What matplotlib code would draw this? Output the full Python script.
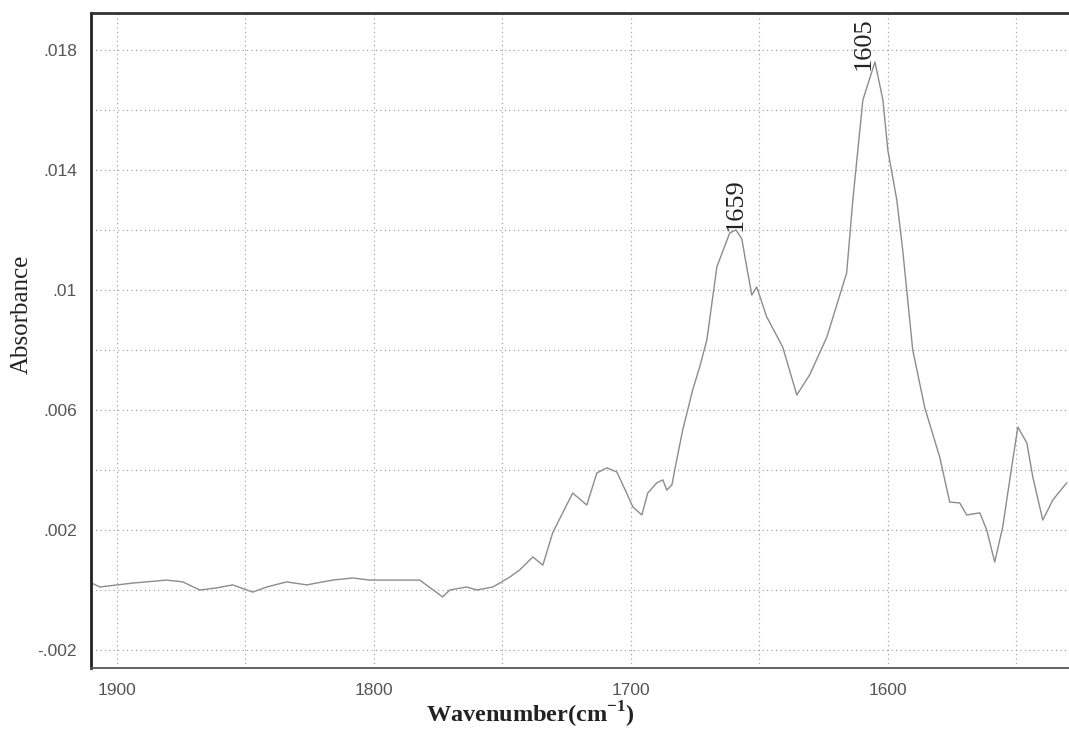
import numpy as np
import matplotlib
matplotlib.use("Agg")
import matplotlib.pyplot as plt
from matplotlib.ticker import FixedLocator, FixedFormatter

# spectrum
wavenumber = [1909, 1906.6, 1893.8, 1880.5, 1874.3, 1867.7, 1861.1, 1854.9, 1847.1, 1841.6,
              1833.9, 1826.1, 1816.0, 1808.2, 1801.6, 1789.9, 1782.1, 1773.2, 1770.4, 1763.8,
              1759.9, 1753.7, 1751.0, 1747.1, 1743.2, 1738.1, 1734.2, 1730.4, 1726.5, 1722.6,
              1717.1, 1713.2, 1709.3, 1705.4, 1701.6, 1699.2, 1695.7, 1693.4, 1689.9, 1687.5,
              1686.0, 1684.0, 1682.9, 1679.8, 1675.9, 1673.2, 1670.4, 1666.5, 1661.5, 1659.1,
              1656.8, 1654.9, 1652.9, 1651.0, 1647.1, 1640.9, 1635.4, 1630.4, 1623.7, 1616.0,
              1613.6, 1609.7, 1605.0, 1601.9, 1600.0, 1596.5, 1594.2, 1590.3, 1585.6, 1579.8,
              1575.9, 1572.0, 1569.3, 1564.2, 1561.5, 1558.4, 1555.3, 1551.8, 1549.4, 1545.9,
              1543.6, 1539.7, 1535.8, 1530.4]
absorbance = [0.0002, 0.0001, 0.00023, 0.00033, 0.00027, 0.0, 0.00007, 0.00017, -0.00007, 0.0001,
              0.00027, 0.00017, 0.00033, 0.0004, 0.00033, 0.00033, 0.00033, -0.00023, 0.0, 0.0001,
              0.0, 0.0001, 0.00023, 0.00043, 0.00067, 0.0011, 0.00083, 0.0019, 0.00257, 0.00323,
              0.00283, 0.0039, 0.00407, 0.00393, 0.00323, 0.00277, 0.0025, 0.00323, 0.00357, 0.00367,
              0.00333, 0.0035, 0.004, 0.00533, 0.00667, 0.00743, 0.00833, 0.01077, 0.0119, 0.0120,
              0.0117, 0.01077, 0.00983, 0.0101, 0.0091, 0.0081, 0.0065, 0.00717, 0.00843, 0.01057,
              0.013, 0.01633, 0.0176, 0.01633, 0.01467, 0.013, 0.01133, 0.008, 0.00607, 0.00443,
              0.00293, 0.0029, 0.0025, 0.00257, 0.002, 0.00093, 0.0021, 0.0041, 0.00543, 0.0049,
              0.00377, 0.00233, 0.003, 0.00357]

peak_pos = [1659, 1605]
peak_val = [0.0120, 0.0176]
peak_text = ["1659", "1605"]
peak_shift = [(0, -1), (-8, -6)]  # label offsets in points

x_grid = [1900, 1850, 1800, 1750, 1700, 1650, 1600, 1550]
x_labels = ["1900", "", "1800", "", "1700", "", "1600", ""]
y_grid = [-0.002, 0.0, 0.002, 0.004, 0.006, 0.008, 0.010, 0.012, 0.014, 0.016, 0.018]
y_labels = ["-.002", "", ".002", "", ".006", "", ".01", "", ".014", "", ".018"]

plt.rcParams["mathtext.fontset"] = "custom"
plt.rcParams["mathtext.rm"] = "Liberation Serif:bold"

fig = plt.figure(figsize=(10.69, 7.31), dpi=100)
ax = fig.add_axes([91 / 1069, 1 - 668 / 731, 1 - 91 / 1069, (668 - 13) / 731])

ax.plot(wavenumber, absorbance, color="#8c8c8c", lw=1.0)

ax.set_xlim(1910, 1529.5)
ax.set_ylim(-0.0026, 0.01923)

ax.xaxis.set_major_locator(FixedLocator(x_grid))
ax.xaxis.set_major_formatter(FixedFormatter(x_labels))
ax.yaxis.set_major_locator(FixedLocator(y_grid))
ax.yaxis.set_major_formatter(FixedFormatter(y_labels))
ax.tick_params(length=0, labelsize=12.5, labelcolor="#555555", labelfontfamily="Liberation Sans")
ax.tick_params(axis="x", pad=11)
ax.tick_params(axis="y", pad=10)
ax.grid(True, linestyle=(0, (1, 3)), color="#999999", lw=0.8)

ax.spines["right"].set_visible(False)
ax.spines["left"].set_linewidth(2)
ax.spines["top"].set_linewidth(2)
ax.spines["bottom"].set_linewidth(1.3)
ax.spines["left"].set_color("#222222")
ax.spines["top"].set_color("#333333")
ax.spines["bottom"].set_color("#555555")

for xp, yp, t, off in zip(peak_pos, peak_val, peak_text, peak_shift):
    ax.annotate(t, (xp, yp), xytext=off, textcoords="offset points",
                rotation=90, ha="center", va="bottom", fontsize=19,
                family="Liberation Serif", color="#222222")

fig.text(22 / 1069, 1 - 314 / 731, "Absorbance", rotation=90, ha="center", va="center",
         fontsize=18, family="Liberation Serif", color="#222222")
fig.text(530 / 1069, 1 - 723 / 731, r"Wavenumber(cm$^{\mathregular{-1}}$)", ha="center", va="baseline",
         fontsize=17.5, family="Liberation Serif", weight="bold", color="#222222")

fig.savefig("out.png", dpi=100)
